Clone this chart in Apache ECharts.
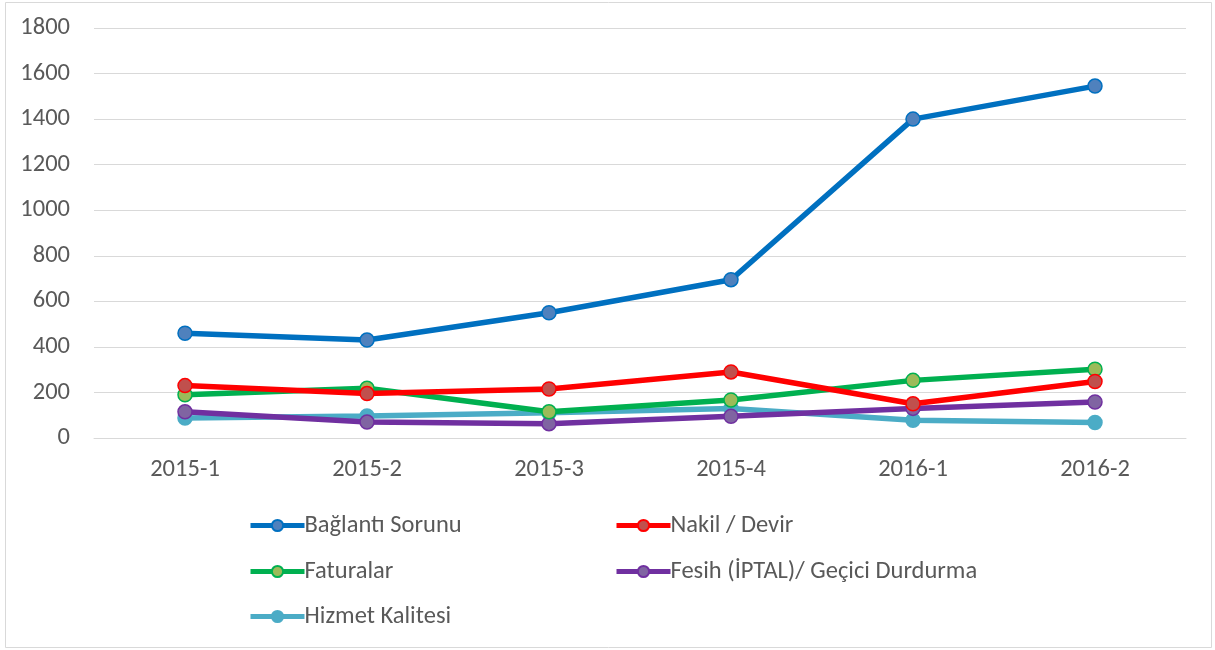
<!DOCTYPE html>
<html>
<head>
<meta charset="utf-8">
<script src="https://cdn.jsdelivr.net/npm/echarts@6/dist/echarts.min.js"></script>
<style>
  html, body { margin: 0; padding: 0; background: #fff; }
  #chart { width: 1215px; height: 650px; }
</style>
</head>
<body>
<div id="chart"></div>
<script>
// dönemler
const categories = ['2015-1', '2015-2', '2015-3', '2015-4', '2016-1', '2016-2']
const yTicks = [0, 200, 400, 600, 800, 1000, 1200, 1400, 1600, 1800]

// şikayet sayıları
const baglanti = [460, 430, 550, 695, 1400, 1545]
const nakil = [230, 195, 215, 290, 150, 248]
const faturalar = [190, 218, 115, 167, 253, 302]
const fesih = [115, 70, 63, 95, 130, 158]
const hizmet = [88, 97, 111, 130, 78, 68]

const seriesNames = ['Bağlantı Sorunu', 'Nakil / Devir', 'Faturalar', 'Fesih (İPTAL)/ Geçici Durdurma', 'Hizmet Kalitesi']
const seriesData = [baglanti, nakil, faturalar, fesih, hizmet]
const lineColors = ['#0070C0', '#FF0000', '#00B050', '#7030A0', '#4BACC6']
const markerColors = ['#4F81BD', '#C0504D', '#9BBB59', '#8064A2', '#4BACC6']

const font = 'Calibri, Carlito, "Open Sans", sans-serif'
const textColor = '#595959'

const chart = echarts.init(document.getElementById('chart'), null, { renderer: 'canvas' })

// legend yerleri (iki sütun, üç satır)
const legendPos = [
  { left: 243, top: 508 },
  { left: 609, top: 508 },
  { left: 243, top: 554 },
  { left: 609, top: 554 },
  { left: 243, top: 599 }
]

const legends = seriesNames.map((name, i) => ({
  data: [name],
  left: legendPos[i].left,
  top: legendPos[i].top,
  itemWidth: 54,
  itemHeight: 14,
  itemGap: 0,
  lineStyle: { width: 5 },
  textStyle: { color: textColor, fontSize: 24.5, fontFamily: font, padding: [0, 0, 0, -5] }
}))

chart.setOption({
  animation: false,
  backgroundColor: '#fff',
  graphic: [{
    type: 'rect',
    shape: { x: 5.5, y: 2.5, width: 1206, height: 645 },
    style: { fill: 'none', stroke: '#D9D9D9', lineWidth: 1 },
    silent: true
  }],
  grid: { left: 94, right: 29, top: 28, bottom: 212 },
  legend: legends,
  xAxis: {
    type: 'category',
    data: categories,
    boundaryGap: true,
    axisLine: { lineStyle: { color: '#D9D9D9', width: 1 } },
    axisTick: { show: false },
    axisLabel: { color: textColor, fontSize: 24.5, fontFamily: font, margin: 19 }
  },
  yAxis: {
    type: 'value',
    min: yTicks[0],
    max: yTicks[yTicks.length - 1],
    interval: 200,
    axisLine: { show: false },
    axisTick: { show: false },
    splitLine: { lineStyle: { color: '#D9D9D9', width: 1 } },
    axisLabel: { color: textColor, fontSize: 24.5, fontFamily: font, margin: 24, formatter: v => String(v) }
  },
  series: seriesNames.map((name, i) => ({
    name: name,
    type: 'line',
    data: seriesData[i],
    symbol: 'circle',
    symbolSize: 14,
    lineStyle: { color: lineColors[i], width: 5.5 },
    itemStyle: { color: markerColors[i], borderColor: lineColors[i], borderWidth: 1.5 },
    z: 10 - i
  }))
})
</script>
</body>
</html>
